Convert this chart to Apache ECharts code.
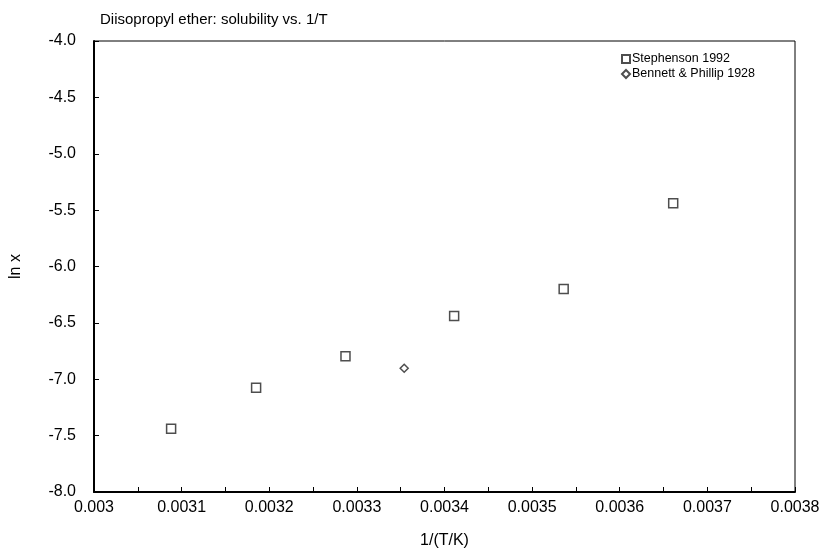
<!DOCTYPE html>
<html>
<head>
<meta charset="utf-8">
<script src="https://cdn.jsdelivr.net/npm/echarts@6/dist/echarts.min.js"></script>
<style>html,body{margin:0;padding:0;background:#fff}#c{width:831px;height:554px}</style>
</head>
<body>
<div id="c"></div>
<script>
const chartTitle = 'Diisopropyl ether: solubility vs. 1/T';
const seriesNames = ['Stephenson 1992', 'Bennett & Phillip 1928'];
const stephensonX = [0.003088, 0.003185, 0.003287, 0.003411, 0.003536, 0.003661];
const stephensonY = [-7.44, -7.076, -6.797, -6.44, -6.199, -5.438];
const bennettX = [0.003354];
const bennettY = [-6.902];
const xTitle = '1/(T/K)';
const yTitle = 'ln x';

const zip = (xs, ys) => xs.map((x, i) => [x, ys[i]]);
const chart = echarts.init(document.getElementById('c'));
const font = 'Liberation Sans, Arial, sans-serif';
chart.setOption({
  animation: false,
  backgroundColor: '#fff',
  textStyle: { fontFamily: font },
  title: {
    text: chartTitle, left: 95, top: 7,
    textStyle: { fontSize: 15, fontWeight: 'normal', color: '#000', fontFamily: font }
  },
  legend: {
    orient: 'vertical', left: 616, top: 47, itemWidth: 8, itemHeight: 8, itemGap: 1,
    textStyle: { fontSize: 12.5, lineHeight: 14, color: '#000', fontFamily: font, padding: [0, 0, 0, -3] },
    data: seriesNames
  },
  grid: { left: 94, right: 36, top: 41, bottom: 54, show: true, borderColor: '#000', borderWidth: 1, backgroundColor: 'transparent' },
  xAxis: {
    type: 'value', min: 0.003, max: 0.0038, interval: 0.0001,
    name: xTitle, nameLocation: 'middle', nameGap: 41,
    nameTextStyle: { fontSize: 16, color: '#000', fontFamily: font },
    axisLine: { show: true, lineStyle: { color: '#000', width: 2 } },
    axisTick: { show: true, inside: true, length: 5, lineStyle: { color: '#000', width: 1 } },
    minorTick: { show: true, splitNumber: 2, length: 5, lineStyle: { color: '#000', width: 1 } },
    splitLine: { show: false },
    axisLabel: { fontSize: 16, color: '#000', margin: 8, fontFamily: font,
      formatter: v => String(parseFloat(v.toFixed(4))) }
  },
  yAxis: {
    type: 'value', min: -8, max: -4, interval: 0.5,
    name: yTitle, nameLocation: 'middle', nameGap: 70,
    nameTextStyle: { fontSize: 16, color: '#000', fontFamily: font },
    axisLine: { show: true, lineStyle: { color: '#000', width: 2 } },
    axisTick: { show: true, inside: true, length: 5, lineStyle: { color: '#000', width: 1 } },
    splitLine: { show: false },
    axisLabel: { fontSize: 16, color: '#000', margin: 18, fontFamily: font,
      formatter: v => v.toFixed(1) }
  },
  series: [
    {
      name: seriesNames[0], type: 'scatter', symbol: 'rect', symbolSize: 9,
      itemStyle: { color: '#fff', borderColor: '#222', borderWidth: 1.5 },
      data: zip(stephensonX, stephensonY)
    },
    {
      name: seriesNames[1], type: 'scatter', symbol: 'diamond', symbolSize: 8,
      itemStyle: { color: '#fff', borderColor: '#222', borderWidth: 1.5 },
      data: zip(bennettX, bennettY)
    }
  ]
});
</script>
</body>
</html>
